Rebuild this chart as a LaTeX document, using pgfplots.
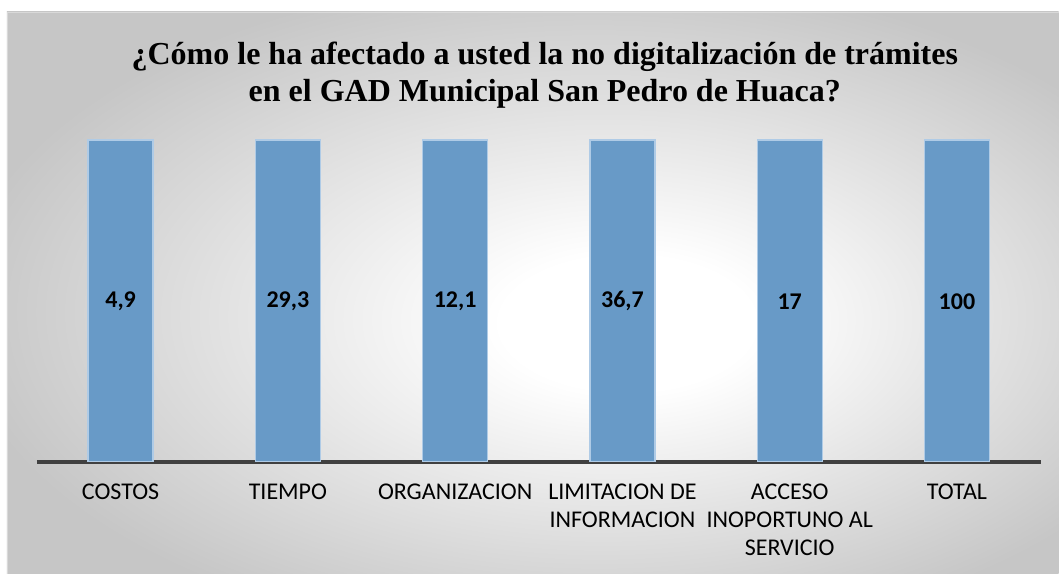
\documentclass[border=0pt]{standalone}
\usepackage{pgfplots}
\pgfplotsset{compat=1.18}
\usepackage{fontspec}
\setmainfont{Carlito}
\newfontfamily\titlefont{Liberation Serif}
\definecolor{barblue}{RGB}{104,154,199}
\definecolor{baredge}{RGB}{175,203,230}
\definecolor{axline}{RGB}{64,64,64}
\definecolor{bgout}{RGB}{198,198,198}
\pgfdeclareradialshading{bgshade}{\pgfpoint{5bp}{-3bp}}{color(0bp)=(white); color(6bp)=(white); color(30bp)=(bgout); color(60bp)=(bgout)}
\begin{document}
\begin{tikzpicture}[x=0.75pt,y=0.75pt]
\fill[white] (0,0) rectangle (1059,574);
\shade[shading=bgshade] (7,0) rectangle (1059,562);
\draw[white!85!black, line width=0.6pt] (7,0) -- (7,562) -- (1059,562);
\node[font=\titlefont\bfseries\fontsize{24}{27.5}\selectfont, align=center] at (545,499) {¿Cómo le ha afectado a usted la no digitalización de trámites\\en el GAD Municipal San Pedro de Huaca?};
\begin{axis}[
  at={(27.75pt,84pt)}, anchor=south west,
  scale only axis, width=753pt, height=241.5pt,
  xmin=-0.5, xmax=5.5, ymin=0, ymax=100,
  axis x line=bottom, axis y line=none,
  x axis line style={-, draw=axline, line width=3pt},
  xtick={0,1,2,3,4,5},
  xticklabels={COSTOS, TIEMPO, ORGANIZACION, {LIMITACION DE\\INFORMACION}, {ACCESO\\INOPORTUNO AL\\SERVICIO}, TOTAL},
  xticklabel style={align=center, font=\fontsize{18}{21}\selectfont, anchor=north, yshift=-13pt},
  major tick length=0pt,
  ybar, bar width=48.75pt,
  point meta=explicit symbolic,
  nodes near coords,
  every node near coord/.append style={anchor=center, yshift=-121pt, font=\bfseries\fontsize{18}{21}\selectfont, text=black},
  clip=false,
]
\addplot[fill=barblue, draw=baredge, line width=1pt] coordinates {
  (0,100) [4,9]
  (1,100) [29,3]
  (2,100) [12,1]
  (3,100) [36,7]
  (4,100) [17]
  (5,100) [100]
};
\end{axis}
\end{tikzpicture}
\end{document}
